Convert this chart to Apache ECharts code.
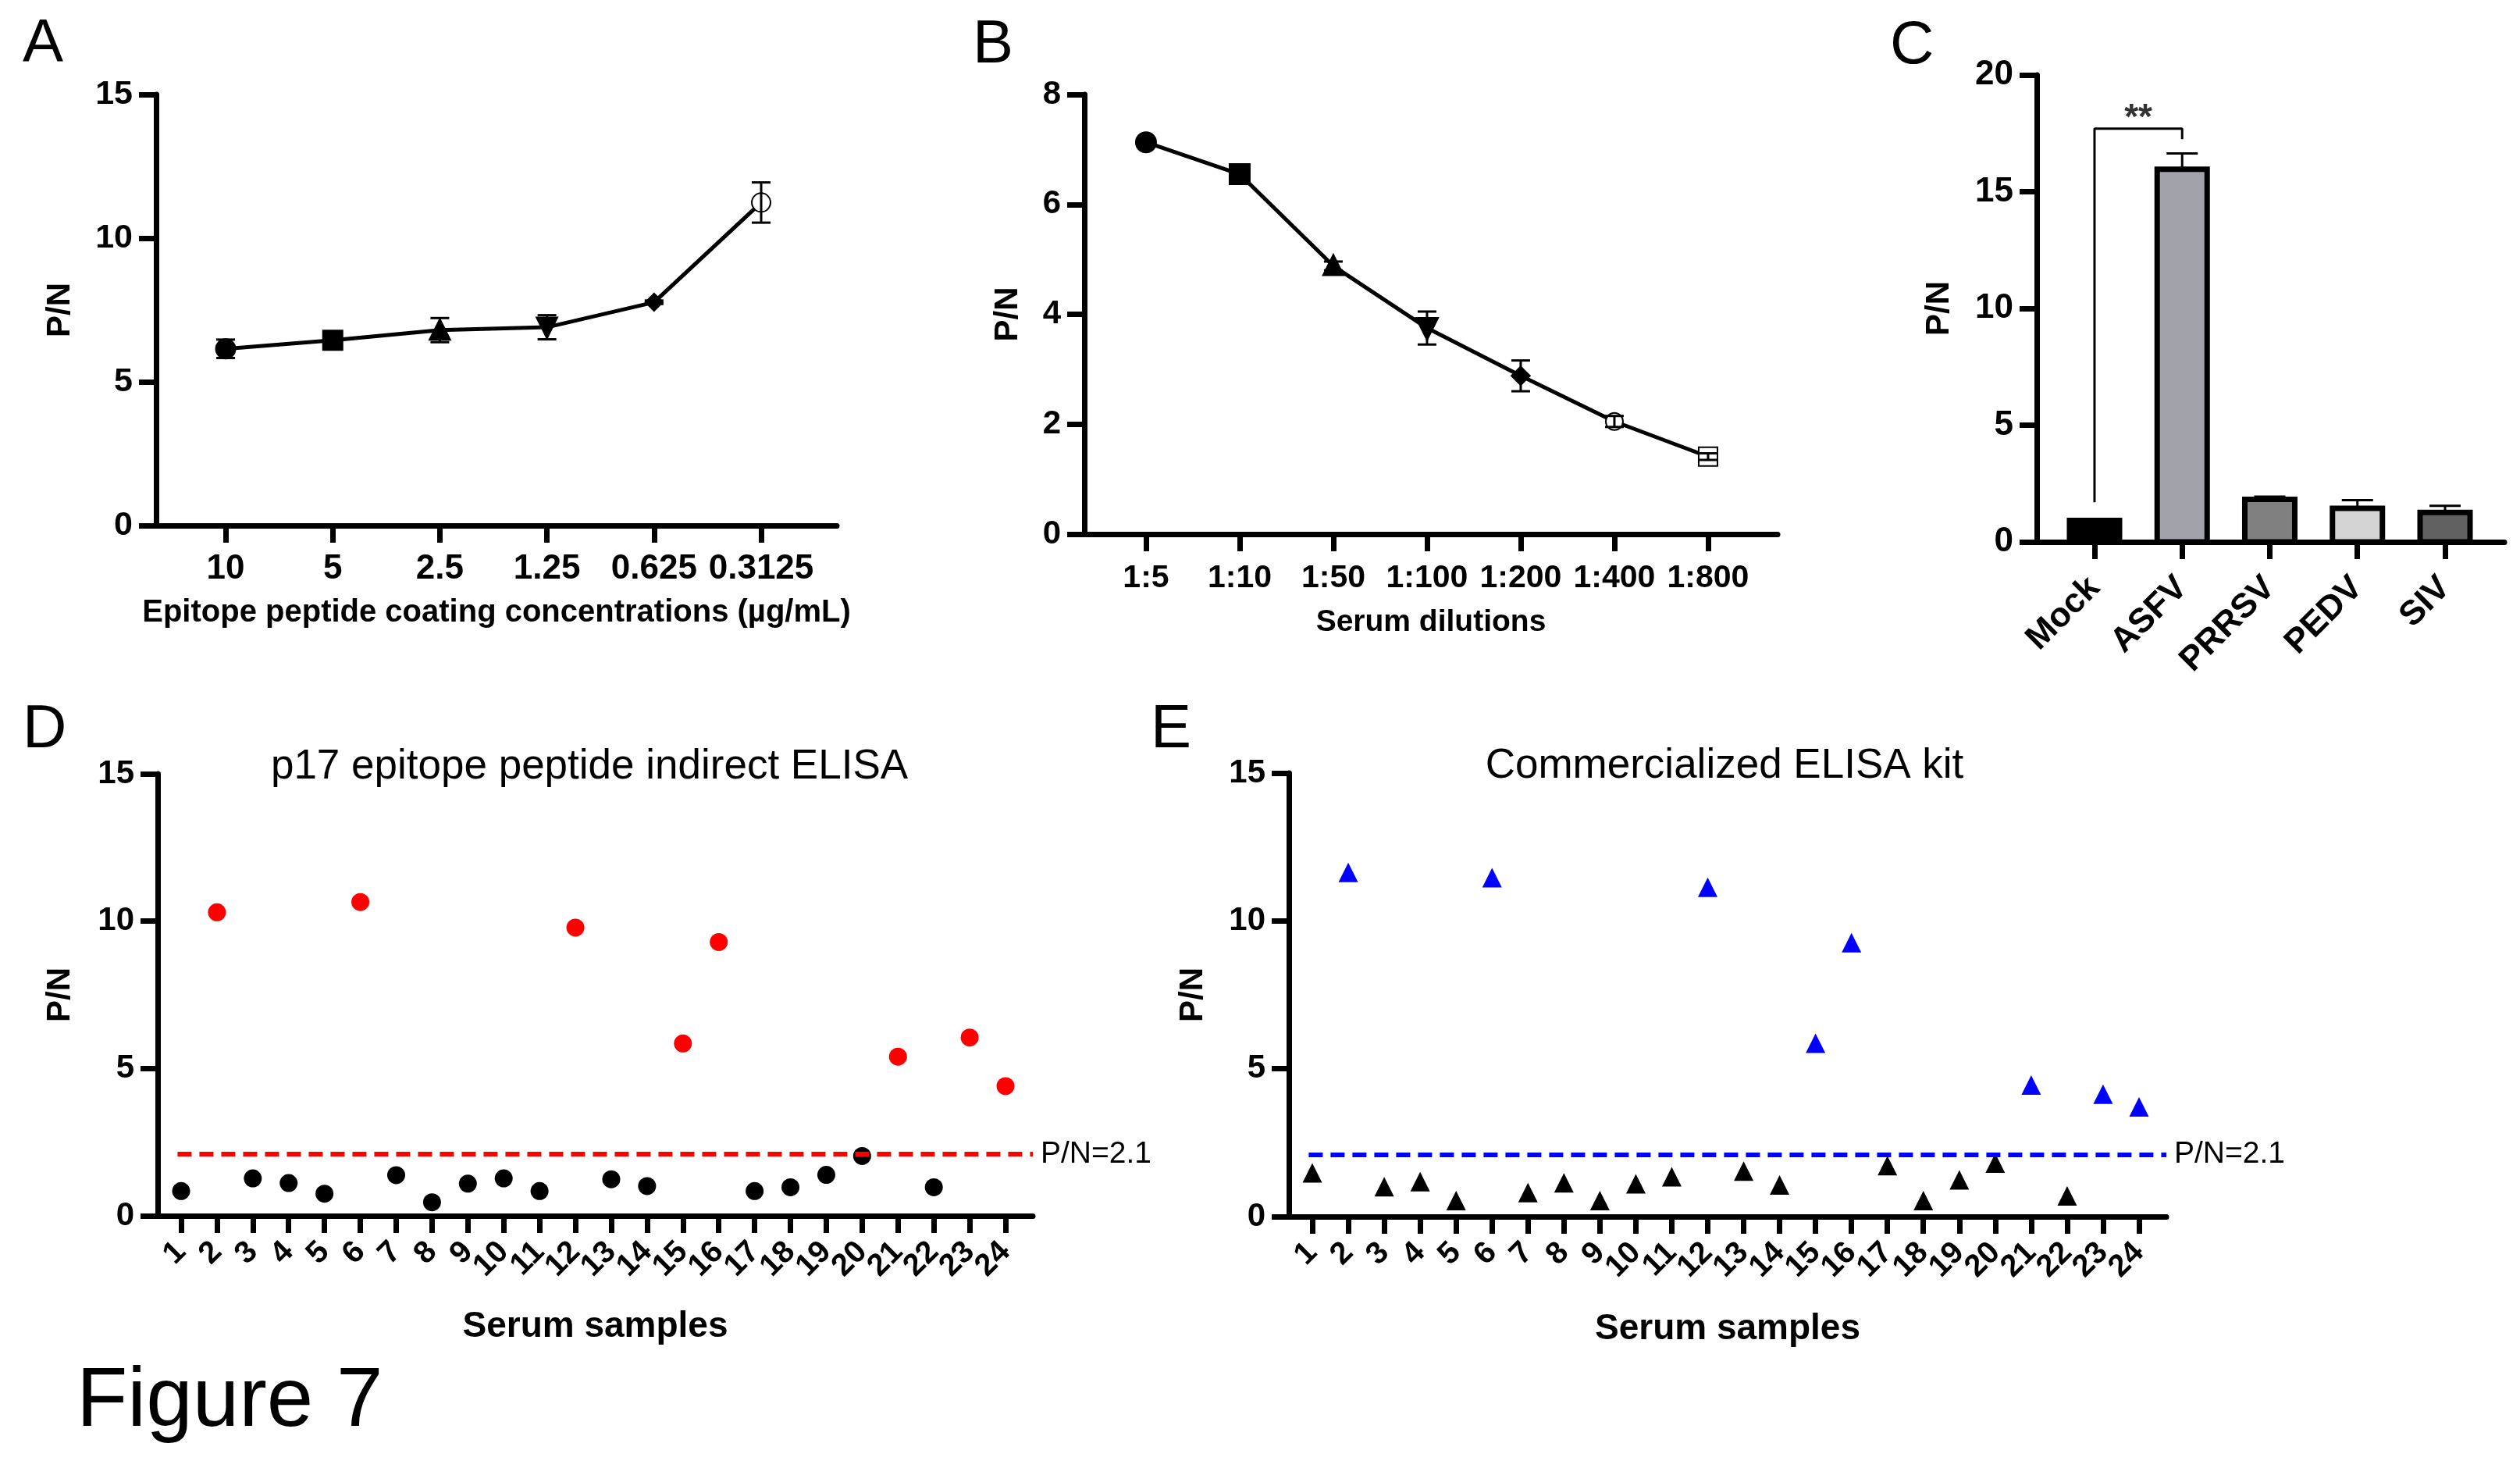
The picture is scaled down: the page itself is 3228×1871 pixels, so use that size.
<!DOCTYPE html>
<html><head><meta charset="utf-8">
<script src="https://cdn.jsdelivr.net/npm/echarts@6/dist/echarts.min.js"></script>
<style>html,body{margin:0;padding:0;background:#fff}#c{width:3228px;height:1871px}</style>
</head><body><div id="c"></div>
<script>
// ---------- data ----------
const aCats = ['10', '5', '2.5', '1.25', '0.625', '0.3125'];
const aMean = [6.15, 6.45, 6.8, 6.9, 7.77, 11.24];
const aSD   = [0.32, 0.1, 0.42, 0.42, 0.06, 0.7];

const bCats = ['1:5', '1:10', '1:50', '1:100', '1:200', '1:400', '1:800'];
const bMean = [7.13, 6.55, 4.88, 3.75, 2.88, 2.05, 1.41];
const bSD   = [0.05, 0.05, 0.08, 0.3, 0.28, 0.1, 0.06];

const cCats = ['Mock', 'ASFV', 'PRRSV', 'PEDV', 'SIV'];
const cMean = [0.92, 15.96, 1.82, 1.44, 1.26];
const cSD   = [0.04, 0.68, 0.12, 0.35, 0.29];
const cBracket = [[0, 1.7], [0, 17.7], [1, 17.7], [1, 17.25]];
const cStarPos = [0.5, 18.1];
const cStarText = '**';

const dCats = Array.from({length: 24}, (_, i) => String(i + 1));
const dValues = [0.84, 10.3, 1.27, 1.11, 0.75, 10.65, 1.38, 0.46, 1.09, 1.27, 0.84, 9.78,
                 1.24, 1.01, 5.85, 9.29, 0.84, 0.97, 1.39, 2.03, 5.4, 0.97, 6.05, 4.4];
const eCats = dCats;
const eValues = [1.48, 11.64, 1.01, 1.18, 0.54, 11.46, 0.81, 1.14, 0.54, 1.11, 1.35, 11.14,
                 1.54, 1.07, 5.86, 9.26, 1.72, 0.54, 1.24, 1.81, 4.45, 0.70, 4.14, 3.71];
const cutoff = 2.1;

// ---------- styles ----------
const FF = '"Liberation Sans", Arial, sans-serif';
const AXW = 7;
const aSymbols = ['circle', 'rect', 'triangle', 'path://M0,0 L10,0 L5,10 Z', 'diamond', 'emptyCircle'];
const aSizes = [22, 22, 22, 22, 18, 24];
const bSymbols = ['circle', 'rect', 'triangle', 'path://M0,0 L10,0 L5,10 Z', 'diamond', 'emptyCircle', 'emptyRect'];
const bSizes = [22, 22, 20, 22, 18, 22, 24];
const cColors = ['#000000', '#a2a2aa', '#808080', '#d4d4d4', '#606060'];

const chart = echarts.init(document.getElementById('c'), null, {renderer: 'canvas'});

function yAx(gi, max, interval, gap, lsize) {
  return {
    type: 'value', gridIndex: gi, min: 0, max: max, interval: interval,
    name: 'P/N', nameLocation: 'middle', nameGap: gap, nameRotate: 90,
    nameTextStyle: {fontFamily: FF, fontWeight: 'bold', fontSize: 42, color: '#000'},
    axisLine: {show: true, onZero: false, lineStyle: {color: '#000', width: AXW}},
    axisTick: {show: true, length: 22, lineStyle: {color: '#000', width: AXW}},
    axisLabel: {fontFamily: FF, fontWeight: 'bold', fontSize: lsize, color: '#000', margin: 30},
    splitLine: {show: false}
  };
}
// padEnds: add blank sentinel labels at the axis ends so the overlap check on
// the first/last label never removes a real tick label.
function xAx(gi, min, max, ticks, labelFn, name, gap, rotate, lsize, nsize, margin, padEnds) {
  const labVals = padEnds ? [min].concat(ticks, [max]) : ticks;
  const fmt = padEnds ? (v => (v === min || v === max) ? '' : labelFn(v)) : labelFn;
  return {
    type: 'value', gridIndex: gi, min: min, max: max,
    name: name, nameLocation: 'middle', nameGap: gap,
    nameTextStyle: {fontFamily: FF, fontWeight: 'bold', fontSize: nsize, color: '#000'},
    axisLine: {show: true, onZero: false, lineStyle: {color: '#000', width: AXW}},
    axisTick: {show: true, length: 22, customValues: ticks, lineStyle: {color: '#000', width: AXW}},
    axisLabel: {customValues: labVals, formatter: fmt, rotate: rotate, fontFamily: FF, fontWeight: 'bold',
                fontSize: lsize, color: '#000', margin: margin,
                showMinLabel: padEnds ? false : true, showMaxLabel: padEnds ? false : true, hideOverlap: false},
    splitLine: {show: false}
  };
}

function errRender(hw, upOnly) {
  return function (params, api) {
    const x = api.value(0), m = api.value(1), e = api.value(2);
    const top = api.coord([x, m + e]);
    const bot = api.coord([x, upOnly ? m : m - e]);
    const st = {stroke: '#000', lineWidth: 3};
    const ch = [
      {type: 'line', shape: {x1: top[0], y1: top[1], x2: bot[0], y2: bot[1]}, style: st},
      {type: 'line', shape: {x1: top[0] - hw, y1: top[1], x2: top[0] + hw, y2: top[1]}, style: st}
    ];
    if (!upOnly) ch.push({type: 'line', shape: {x1: bot[0] - hw, y1: bot[1], x2: bot[0] + hw, y2: bot[1]}, style: st});
    return {type: 'group', children: ch};
  };
}
function barRender(params, api) {
  const x = api.value(0), v = api.value(1);
  const p0 = api.coord([x, 0]), p1 = api.coord([x, v]);
  const w = 64;
  return {type: 'rect', shape: {x: p0[0] - w / 2, y: p1[1], width: w, height: p0[1] - p1[1]},
          style: {fill: cColors[params.dataIndex], stroke: '#000', lineWidth: 7}};
}
function txt(text, x, y, size, weight, align) {
  return {type: 'text', x: x, y: y, silent: true,
          style: {text: text, font: (weight || 'normal') + ' ' + size + 'px ' + FF, fill: '#000',
                  align: align || 'left', verticalAlign: 'middle',
                  textAlign: align || 'left', textVerticalAlign: 'middle'}};
}

const idx = a => a.map((_, i) => i);

const option = {
  animation: false,
  backgroundColor: '#fff',
  grid: [
    {left: 200, top: 121, width: 872, height: 552},
    {left: 1389, top: 121, width: 888, height: 563},
    {left: 2609, top: 96, width: 599, height: 598},
    {left: 202, top: 991, width: 1121, height: 566},
    {left: 1651, top: 990, width: 1124, height: 568}
  ],
  xAxis: [
    xAx(0, -0.649, 5.707, idx(aCats), v => aCats[Math.round(v)], 'Epitope peptide coating concentrations (µg/mL)', 92, 0, 44, 40, 34, false),
    xAx(1, -0.658, 6.742, idx(bCats), v => bCats[Math.round(v)], 'Serum dilutions', 94, 0, 41, 39, 36, false),
    xAx(2, -0.659, 4.677, idx(cCats), v => cCats[Math.round(v)], '', 0, 45, 44, 40, 52, false),
    xAx(3, 0.3465, 24.762, dCats.map((_, i) => i + 1), v => dCats[Math.round(v) - 1], 'Serum samples', 119, 45, 40, 46, 40, true),
    xAx(4, 0.348, 24.76, eCats.map((_, i) => i + 1), v => eCats[Math.round(v) - 1], 'Serum samples', 121, 45, 40, 46, 40, true)
  ],
  yAxis: [
    yAx(0, 15, 5, 102, 43),
    yAx(1, 8, 2, 77, 42),
    yAx(2, 20, 5, 104, 44),
    yAx(3, 15, 5, 104, 42),
    yAx(4, 15, 5, 102, 42)
  ],
  series: [
    // A
    {type: 'line', xAxisIndex: 0, yAxisIndex: 0, z: 3,
     lineStyle: {color: '#000', width: 5}, itemStyle: {color: '#000', borderColor: '#000', borderWidth: 5, opacity: 1},
     data: aMean.map((v, i) => ({value: [i, v], symbol: aSymbols[i], symbolSize: aSizes[i]}))},
    {type: 'custom', xAxisIndex: 0, yAxisIndex: 0, z: 4, renderItem: errRender(12, false),
     data: aMean.map((v, i) => [i, v, aSD[i]])},
    // B
    {type: 'line', xAxisIndex: 1, yAxisIndex: 1, z: 3,
     lineStyle: {color: '#000', width: 5}, itemStyle: {color: '#000', borderColor: '#000', borderWidth: 6, opacity: 1},
     data: bMean.map((v, i) => ({value: [i, v], symbol: bSymbols[i], symbolSize: bSizes[i]}))},
    {type: 'custom', xAxisIndex: 1, yAxisIndex: 1, z: 4, renderItem: errRender(12, false),
     data: bMean.map((v, i) => [i, v, bSD[i]])},
    // C
    {type: 'custom', xAxisIndex: 2, yAxisIndex: 2, z: 2, renderItem: barRender,
     data: cMean.map((v, i) => [i, v])},
    {type: 'custom', xAxisIndex: 2, yAxisIndex: 2, z: 1, renderItem: errRender(20, true),
     data: cMean.map((v, i) => [i, v, cSD[i]])},
    {type: 'line', xAxisIndex: 2, yAxisIndex: 2, symbol: 'none', lineStyle: {color: '#000', width: 3},
     data: cBracket},
    {type: 'scatter', xAxisIndex: 2, yAxisIndex: 2, symbolSize: 1, itemStyle: {color: 'rgba(0,0,0,0)'},
     label: {show: true, position: 'inside', formatter: cStarText, fontFamily: FF, fontWeight: 'bold', fontSize: 46, color: '#000'},
     data: [cStarPos]},
    // D
    {type: 'scatter', xAxisIndex: 3, yAxisIndex: 3, symbol: 'circle', symbolSize: 23,
     data: dValues.map((v, i) => ({value: [i + 1, v], itemStyle: {color: v > cutoff ? '#ff0000' : '#000000', opacity: 1}})),
     markLine: {silent: true, symbol: 'none',
       lineStyle: {color: '#ff0000', type: [18, 10], width: 6, opacity: 1},
       label: {show: true, position: 'end', formatter: 'P/N=' + cutoff, fontFamily: FF, fontSize: 39, color: '#000', distance: 10},
       data: [[{coord: [0.9, cutoff]}, {coord: [24.762, cutoff]}]]}},
    // E
    {type: 'scatter', xAxisIndex: 4, yAxisIndex: 4, symbol: 'triangle', symbolSize: 25,
     data: eValues.map((v, i) => ({value: [i + 1, v], itemStyle: {color: v > cutoff ? '#0000ff' : '#000000', opacity: 1}})),
     markLine: {silent: true, symbol: 'none',
       lineStyle: {color: '#0000ff', type: [18, 10], width: 6, opacity: 1},
       label: {show: true, position: 'end', formatter: 'P/N=' + cutoff, fontFamily: FF, fontSize: 39, color: '#000', distance: 10},
       data: [[{coord: [0.9, cutoff]}, {coord: [24.76, cutoff]}]]}}
  ],
  graphic: [
    txt('A', 29, 57, 78),
    txt('B', 1246, 58, 78),
    txt('C', 2421, 59, 78),
    txt('D', 29, 935, 78),
    txt('E', 1474, 935, 78),
    txt('p17 epitope peptide indirect ELISA', 755, 982, 53, 'normal', 'center'),
    txt('Commercialized ELISA kit', 2209, 981, 53, 'normal', 'center'),
    txt('Figure 7', 98, 1796, 107)
  ]
};
chart.setOption(option);
</script></body></html>
